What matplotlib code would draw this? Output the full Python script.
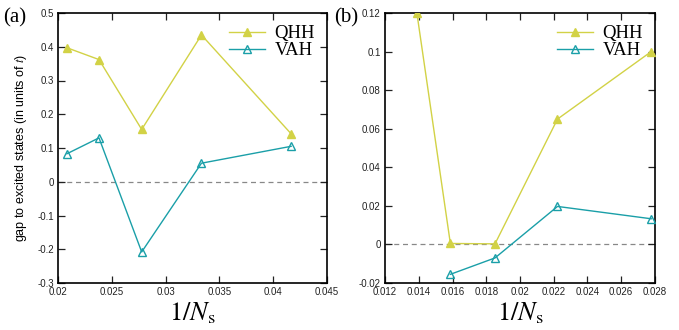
import matplotlib
matplotlib.use("Agg")
import matplotlib.pyplot as plt

plt.rcParams['mathtext.fontset'] = 'stix'

# Panel (a)
xa = [1/48, 1/42, 1/36, 1/30, 1/24]
qhh_a = [0.397, 0.362, 0.155, 0.435, 0.142]
vah_a = [0.083, 0.130, -0.208, 0.055, 0.105]
xticks_a = [0.02, 0.025, 0.03, 0.035, 0.04, 0.045]
xticklabels_a = ['0.02', '0.025', '0.03', '0.035', '0.04', '0.045']
yticks_a = [-0.3, -0.2, -0.1, 0, 0.1, 0.2, 0.3, 0.4, 0.5]
yticklabels_a = ['-0.3', '-0.2', '-0.1', '0', '0.1', '0.2', '0.3', '0.4', '0.5']

# Panel (b)
xb_qhh = [1/72, 1/63, 1/54, 1/45, 1/36]
qhh_b = [0.120, 0.0005, 0.0003, 0.065, 0.100]
xb_vah = [1/63, 1/54, 1/45, 1/36]
vah_b = [-0.0155, -0.007, 0.0197, 0.0133]
xticks_b = [0.012, 0.014, 0.016, 0.018, 0.02, 0.022, 0.024, 0.026, 0.028]
xticklabels_b = ['0.012', '0.014', '0.016', '0.018', '0.02', '0.022', '0.024', '0.026', '0.028']
yticks_b = [-0.02, 0, 0.02, 0.04, 0.06, 0.08, 0.1, 0.12]
yticklabels_b = ['-0.02', '0', '0.02', '0.04', '0.06', '0.08', '0.1', '0.12']

c_qhh = '#d2d246'
c_vah = '#1a9fa8'

fig = plt.figure(figsize=(6.79, 3.30), dpi=100)
axa = fig.add_axes([58/679, 1-283/330, 269/679, 270/330])
axb = fig.add_axes([385/679, 1-283/330, 270/679, 270/330])

tickfont = dict(family='Liberation Sans', size=7)

def style(ax, xt, xtl, yt, ytl, xlim, ylim):
    ax.set_xlim(*xlim)
    ax.set_ylim(*ylim)
    ax.set_xticks(xt)
    ax.set_xticklabels(xtl, fontdict=tickfont)
    ax.set_yticks(yt)
    ax.set_yticklabels(ytl, fontdict=tickfont)
    ax.tick_params(direction='in', top=True, right=True, length=5, width=0.9, pad=3, colors='#222222')
    for s in ax.spines.values():
        s.set_linewidth(1.2)
    ax.axhline(0, color='#888888', lw=0.9, ls=(0, (4, 3)), zorder=1)
    ax.set_xlabel(r'$1/N_{\rm s}$', fontsize=19, labelpad=2)
    ax.legend(loc='upper right', frameon=False, handlelength=1.9,
              prop=dict(family='Liberation Serif', size=13.5),
              borderaxespad=0.25, labelspacing=0.0, handletextpad=0.5)

axa.plot(xa, qhh_a, color=c_qhh, marker='^', ms=6, lw=1.0, label='QHH', zorder=3)
axa.plot(xa, vah_a, color=c_vah, marker='^', ms=6, lw=1.0, mfc='none', mew=1.0, label='VAH', zorder=3)
style(axa, xticks_a, xticklabels_a, yticks_a, yticklabels_a, (0.02, 0.045), (-0.3, 0.5))
axa.set_ylabel(r'gap to excited states (in units of $t$)', family='Liberation Sans', fontsize=9, labelpad=6)

axb.plot(xb_qhh, qhh_b, color=c_qhh, marker='^', ms=6, lw=1.0, label='QHH', zorder=3)
axb.plot(xb_vah, vah_b, color=c_vah, marker='^', ms=6, lw=1.0, mfc='none', mew=1.0, label='VAH', zorder=3)
style(axb, xticks_b, xticklabels_b, yticks_b, yticklabels_b, (0.012, 0.028), (-0.02, 0.12))

fig.text(3/679, 1-18/330, '(a)', family='Liberation Serif', fontsize=15, va='center', ha='left')
fig.text(334/679, 1-18/330, '(b)', family='Liberation Serif', fontsize=15, va='center', ha='left')

fig.savefig('out.png', dpi=100)
